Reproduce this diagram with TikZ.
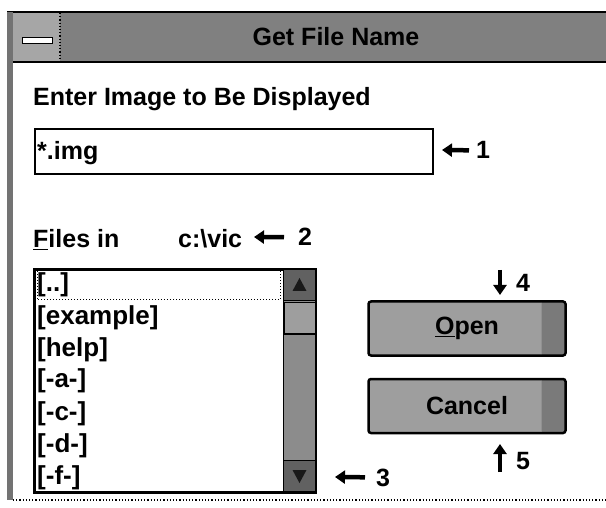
\documentclass[tikz,border=0pt]{standalone}
\usepackage{fontspec}
\setmainfont{Liberation Sans}
\usetikzlibrary{arrows.meta,positioning,calc}

\begin{document}
\begin{tikzpicture}
[x=1pt,y=-1pt,
    lab/.style={font=\fontsize{25}{30}\selectfont\bfseries,inner sep=0pt,anchor=base west},
    item/.style={font=\fontsize{26}{30}\selectfont\bfseries,inner sep=0pt,anchor=base west},
    num/.style={font=\fontsize{25}{28}\selectfont\bfseries,inner sep=0pt,anchor=base west},
    box/.style={draw,line width=1.8pt,anchor=north west,inner sep=0pt},
    btn/.style={draw,line width=2.5pt,rounded corners=2.5pt,fill=black!38,
    minimum width=197pt,minimum height=54pt,inner sep=0pt,
    font=\fontsize{25}{30}\selectfont\bfseries,
    path picture={\fill[black!52] ([xshift=-24pt]path picture bounding box.north east)
    rectangle (path picture bounding box.south east);}},
    scr/.style={draw,line width=1pt,anchor=north west,inner sep=0pt,minimum width=32pt},
myarrow/.style={line width=4.5pt,-{Triangle[length=10pt,width=13pt]}}]
\useasboundingbox (0,0) rectangle (606,508);
%%%%%%%%%%
%% window frame
\fill[black!50] (7,12) rectangle (606,62);
\fill[black!35] (7,12) rectangle (60,62);
\draw[dotted,line width=1.2pt] (60,13) -- (60,62);
\draw[line width=2pt] (7,12) -- (606,12);
\draw[line width=1.5pt] (7,62) -- (606,62);
\fill[black!55] (7,12) rectangle (13,500);
\draw[dotted,line width=1.2pt] (13,500) -- (606,500);
\node (menu) [draw,fill=white,line width=1pt,minimum width=30pt,minimum height=6pt,inner sep=0pt] at (37,41) {};
\node (title) [lab,anchor=base] at (336,46) {Get File Name};
%% input field
\node (enter) [lab] at (33,106) {Enter Image to Be Displayed};
\node (inbox) [box,minimum width=398pt,minimum height=45pt] at (34,128) {};
\node (inp) [lab] at (37,160) {*.img};
%% directory
\node (files) [lab] at (33,248) {\underline{F}iles in};
\node (dir) [lab] at (178,248) {c:\textbackslash vic};
%% list box
\def\rowx{37}
\node (list) [box,minimum width=280pt,minimum height=222pt] at (34,269) {};
\draw[dotted,line width=1pt] (37,271) rectangle (280,300);
\node (r1) [item] at (\rowx,292) {[..]};
\node (r2) [item] at (\rowx,324) {[example]};
\node (r3) [item] at (\rowx,356) {[help]};
\node (r4) [item] at (\rowx,388) {[-a-]};
\node (r5) [item] at (\rowx,420) {[-c-]};
\node (r6) [item] at (\rowx,452) {[-d-]};
\node (r7) [item] at (\rowx,484) {[-f-]};
%% scroll bar
\node (track) [scr,fill=black!45,minimum height=222pt] at (283,269) {};
\node (up) [scr,fill=black!62,minimum height=31pt] at (283,269) {};
\node (thumb) [scr,fill=black!38,minimum height=31pt,line width=1.5pt] at (283,302) {};
\node (down) [scr,fill=black!62,minimum height=31pt] at (283,460) {};
\fill[black!90] ($(up)+(0,-7)$) -- ($(up)+(-7,6)$) -- ($(up)+(7,6)$) -- cycle;
\fill[black!90] ($(down)+(0,7)$) -- ($(down)+(-7,-6)$) -- ($(down)+(7,-6)$) -- cycle;
\draw[line width=1.8pt] (list.north west) rectangle (list.south east);
%% buttons
\node (open) [btn] at (467,328.5) {\underline{O}pen};
\node (cancel) [btn] at (467,406) {Cancel};
%% callouts
\node (n1) [num] at (476,159) {1};
\node (n2) [num] at (298,246) {2};
\node (n3) [num] at (376,486) {3};
\node (n4) [num] at (516,291) {4};
\node (n5) [num] at (516,469) {5};
\coordinate (t1) at (442,150);
\coordinate (t2) at (254,237);
\coordinate (t3) at (335,477);
\coordinate (s4) at (500,270);
\coordinate (t4) at (500,295);
\coordinate (s5) at (500,472);
\coordinate (t5) at (500,444);
\draw[myarrow,shorten <=7pt] (n1.west) -- (t1);
\draw[myarrow,shorten <=14pt] (n2.west) -- (t2);
\draw[myarrow,shorten <=11pt] (n3.west) -- (t3);
\draw[myarrow] (s4) -- (t4);
\draw[myarrow] (s5) -- (t5);
%%
\end{tikzpicture}
\end{document}
